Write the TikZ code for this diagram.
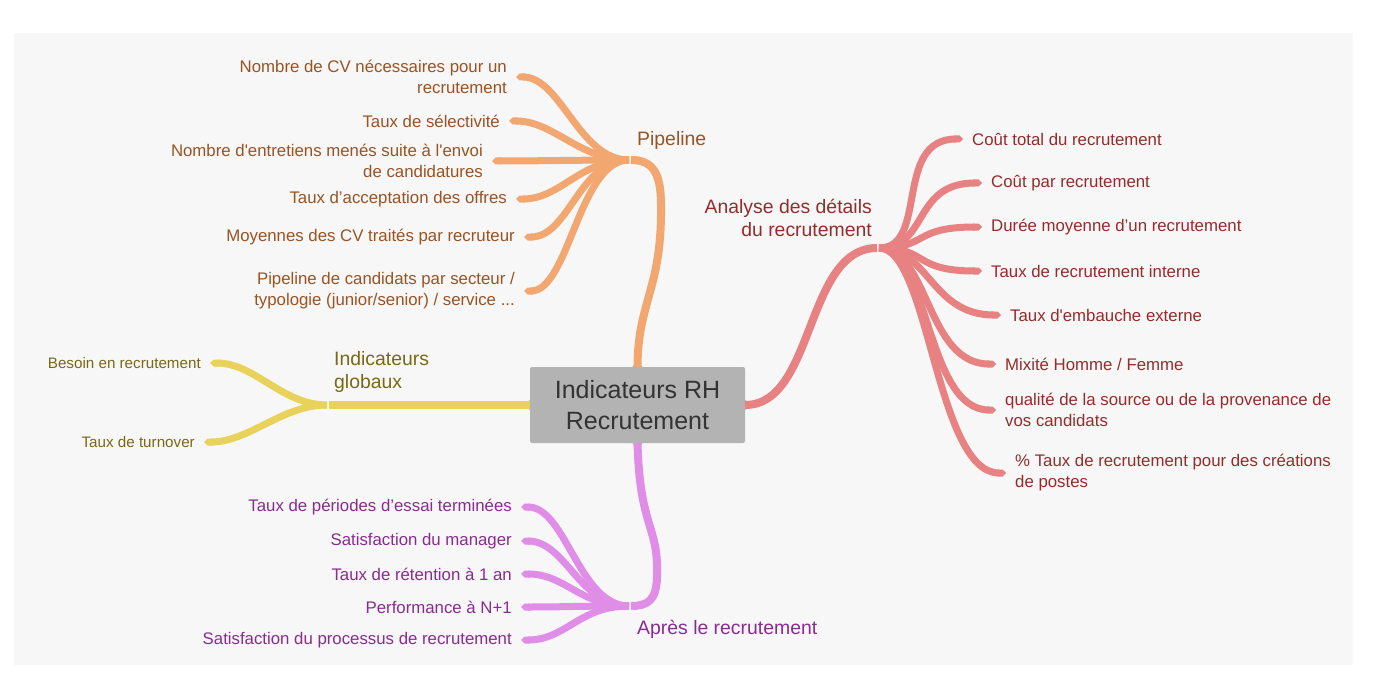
\documentclass[tikz,border=0pt]{standalone}
\usepackage{fontspec}
\setmainfont{Liberation Sans}[Ligatures=TeXOff]
\usetikzlibrary{arrows.meta}
\definecolor{bg}{HTML}{F7F7F7}
\definecolor{boxg}{HTML}{B3B3B3}
\definecolor{boxt}{HTML}{333333}
\definecolor{orl}{HTML}{F2A670}
\definecolor{ort}{HTML}{9A5322}
\definecolor{rdl}{HTML}{E88282}
\definecolor{rdt}{HTML}{962B2B}
\definecolor{yel}{HTML}{E8D25A}
\definecolor{yet}{HTML}{7A6814}
\definecolor{vil}{HTML}{E08DE7}
\definecolor{vit}{HTML}{8A2B92}
\begin{document}
\begin{tikzpicture}[x=1pt,y=-1pt,
  leaf/.style={inner sep=0pt, font=\fontsize{16.8}{21}\selectfont},
  smallleaf/.style={inner sep=0pt, font=\fontsize{15.2}{19}\selectfont},
  blabel/.style={inner sep=0pt, font=\fontsize{19.4}{23}\selectfont},
  mainbr/.style={line width=8pt, line cap=butt},
  twig/.style={line width=7pt, line cap=butt, -{Triangle Cap}},
  notch/.style={fill=boxg}]
\useasboundingbox (0,0) rectangle (1374,698);
\fill[bg] (14,33) rectangle (1353,665);

% central node
\node[fill=boxg, rounded corners=2pt, minimum width=215pt, minimum height=76pt,
      inner sep=0pt, align=center, text=boxt,
      font=\fontsize{25}{31}\selectfont] (c) at (637.5,405) {Indicateurs RH\\Recrutement};
\fill[notch] ([xshift=-5pt]c.north) -- ([yshift=7pt]c.north) -- ([xshift=5pt]c.north) -- cycle;
\fill[notch] ([xshift=-5pt]c.south) -- ([yshift=-7pt]c.south) -- ([xshift=5pt]c.south) -- cycle;
\fill[notch] ([yshift=-5pt]c.west) -- ([xshift=-7pt]c.west) -- ([yshift=5pt]c.west) -- cycle;
\fill[notch] ([yshift=-5pt]c.east) -- ([xshift=7pt]c.east) -- ([yshift=5pt]c.east) -- cycle;

% junctions
\coordinate (jp) at (629,160); \coordinate (jpm) at (631,160);
\coordinate (ja) at (879,248); \coordinate (jam) at (877,248);
\coordinate (jg) at (327,405); \coordinate (jgm) at (329,405);
\coordinate (jv) at (629,606); \coordinate (jvm) at (631,606);

% ---------- Pipeline ----------
\node[blabel, anchor=west, text=ort] (lp) at (637,140) {Pipeline};
\node[leaf, anchor=east, align=right, text=ort] (p1) at (507,77) {Nombre de CV nécessaires pour un\\recrutement};
\node[leaf, anchor=east, text=ort] (p2) at (500,121) {Taux de sélectivité};
\node[leaf, anchor=east, align=right, text=ort] (p3) at (483,161) {Nombre d'entretiens menés suite à l'envoi\\de candidatures};
\node[leaf, anchor=east, text=ort] (p4) at (507,199) {Taux d’acceptation des offres};
\node[leaf, anchor=east, text=ort] (p5) at (515,237) {Moyennes des CV traités par recruteur};
\node[leaf, anchor=east, align=right, text=ort] (p6) at (515,291) {Pipeline de candidats par secteur /\\typologie (junior/senior) / service ...};

\draw[orl, mainbr] (c.north) .. controls (638,300) and (662,290) .. (661,205) .. controls (661,172) and (652,160) .. (jpm);
\foreach \n in {p1,p2,p3,p4,p5,p6}
  \draw[orl, twig] (jp) .. controls +(-50,0) and +(45,0) .. ([xshift=9pt]\n.east);

% ---------- Analyse ----------
\node[blabel, anchor=east, align=right, text=rdt] (la) at (872,218) {Analyse des détails\\du recrutement};
\node[leaf, anchor=west, text=rdt] (a1) at (972,139) {Coût total du recrutement};
\node[leaf, anchor=west, text=rdt] (a2) at (991,183) {Coût par recrutement};
\node[leaf, anchor=west, text=rdt] (a3) at (991,227) {Durée moyenne d’un recrutement};
\node[leaf, anchor=west, text=rdt] (a4) at (991,271) {Taux de recrutement interne};
\node[leaf, anchor=west, text=rdt] (a5) at (1010,315) {Taux d'embauche externe};
\node[leaf, anchor=west, text=rdt] (a6) at (1005,364) {Mixité Homme / Femme};
\node[leaf, anchor=west, align=left, text=rdt] (a7) at (1005,410) {qualité de la source ou de la provenance de\\vos candidats};
\node[leaf, anchor=west, align=left, text=rdt] (a8) at (1015,473) {\% Taux de recrutement pour des créations\\de postes};

\draw[rdl, mainbr] (c.east) .. controls (815,405) and (805,248) .. (jam);
\foreach \n in {a1,a2,a3,a4,a5,a6,a7,a8}
  \draw[rdl, twig] (ja) .. controls +(50,0) and +(-70,0) .. ([xshift=-9pt]\n.west);

% ---------- Indicateurs globaux ----------
\node[blabel, anchor=west, align=left, text=yet] (lg) at (334,372) {Indicateurs\\globaux};
\node[smallleaf, anchor=east, text=yet] (g1) at (201,363) {Besoin en recrutement};
\node[smallleaf, anchor=east, text=yet] (g2) at (195,442) {Taux de turnover};

\draw[yel, mainbr] (c.west) -- (jgm);
\foreach \n in {g1,g2}
  \draw[yel, twig] (jg) .. controls +(-45,0) and +(45,0) .. ([xshift=9pt]\n.east);

% ---------- Après le recrutement ----------
\node[blabel, anchor=west, text=vit] (lv) at (637,629) {Après le recrutement};
\node[leaf, anchor=east, text=vit] (v1) at (512,507) {Taux de périodes d’essai terminées};
\node[leaf, anchor=east, text=vit] (v2) at (512,541) {Satisfaction du manager};
\node[leaf, anchor=east, text=vit] (v3) at (512,574) {Taux de rétention à 1 an};
\node[leaf, anchor=east, text=vit] (v4) at (512,607) {Performance à N+1};
\node[leaf, anchor=east, text=vit] (v5) at (512,640) {Satisfaction du processus de recrutement};

\draw[vil, mainbr] (c.south) .. controls (640,530) and (659,525) .. (657,578) .. controls (656,600) and (648,606) .. (jvm);
\foreach \n in {v1,v2,v3,v4,v5}
  \draw[vil, twig] (jv) .. controls +(-50,0) and +(45,0) .. ([xshift=9pt]\n.east);
\end{tikzpicture}
\end{document}
